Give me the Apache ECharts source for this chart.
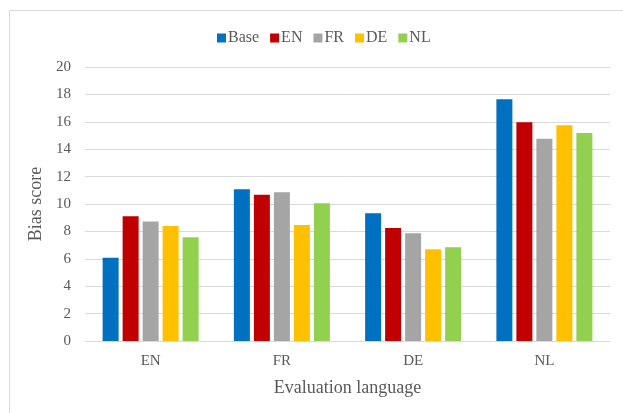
<!DOCTYPE html>
<html>
<head>
<meta charset="utf-8">
<script src="https://cdn.jsdelivr.net/npm/echarts@6/dist/echarts.min.js"></script>
<style>html,body{margin:0;padding:0;background:#fff}#c{width:623px;height:413px}</style>
</head>
<body>
<div id="c"></div>
<script>
var categories = ['EN', 'FR', 'DE', 'NL'];
var seriesNames = ['Base', 'EN', 'FR', 'DE', 'NL'];
var baseVals = [6.08, 11.07, 9.32, 17.64];
var enVals = [9.1, 10.68, 8.25, 15.96];
var frVals = [8.73, 10.85, 7.86, 14.77];
var deVals = [8.39, 8.47, 6.69, 15.74];
var nlVals = [7.57, 10.05, 6.84, 15.18];
var colors = ['#0070C0', '#C00000', '#A5A5A5', '#FFC000', '#92D050'];
var allVals = [baseVals, enVals, frVals, deVals, nlVals];

var font = 'Liberation Serif, Times New Roman, serif';
var chart = echarts.init(document.getElementById('c'));
chart.setOption({
  animation: false,
  textStyle: { fontFamily: font },
  graphic: [{
    type: 'rect', left: 7, top: 8, silent: true,
    shape: { width: 640, height: 430 },
    style: { fill: 'none', stroke: '#d9d9d9', lineWidth: 1 }
  }],
  legend: {
    top: 25, left: 212,
    itemWidth: 9, itemHeight: 9, itemGap: 11,
    icon: 'rect',
    textStyle: { fontFamily: font, fontSize: 16, color: '#595959', padding: [0, 0, 0, -3] },
    data: seriesNames
  },
  grid: { left: 85, right: 13, top: 67, bottom: 72, containLabel: false },
  xAxis: {
    type: 'category', data: categories,
    name: 'Evaluation language', nameLocation: 'middle', nameGap: 38,
    nameTextStyle: { fontFamily: font, fontSize: 18, color: '#595959' },
    axisLine: { lineStyle: { color: '#d9d9d9', width: 1 } },
    axisTick: { show: false },
    axisLabel: { fontFamily: font, fontSize: 15, color: '#595959', margin: 13 }
  },
  yAxis: {
    type: 'value', min: 0, max: 20, interval: 2,
    name: 'Bias score', nameLocation: 'middle', nameGap: 30,
    nameTextStyle: { fontFamily: font, fontSize: 18, color: '#595959' },
    axisLine: { show: false }, axisTick: { show: false },
    axisLabel: { fontFamily: font, fontSize: 15, color: '#595959', margin: 14 },
    splitLine: { lineStyle: { color: '#d9d9d9', width: 1 } }
  },
  series: seriesNames.map(function (n, i) {
    return {
      name: n, type: 'bar', data: allVals[i],
      barWidth: 16, barGap: '25%',
      itemStyle: { color: colors[i] }
    };
  })
});
</script>
</body>
</html>
